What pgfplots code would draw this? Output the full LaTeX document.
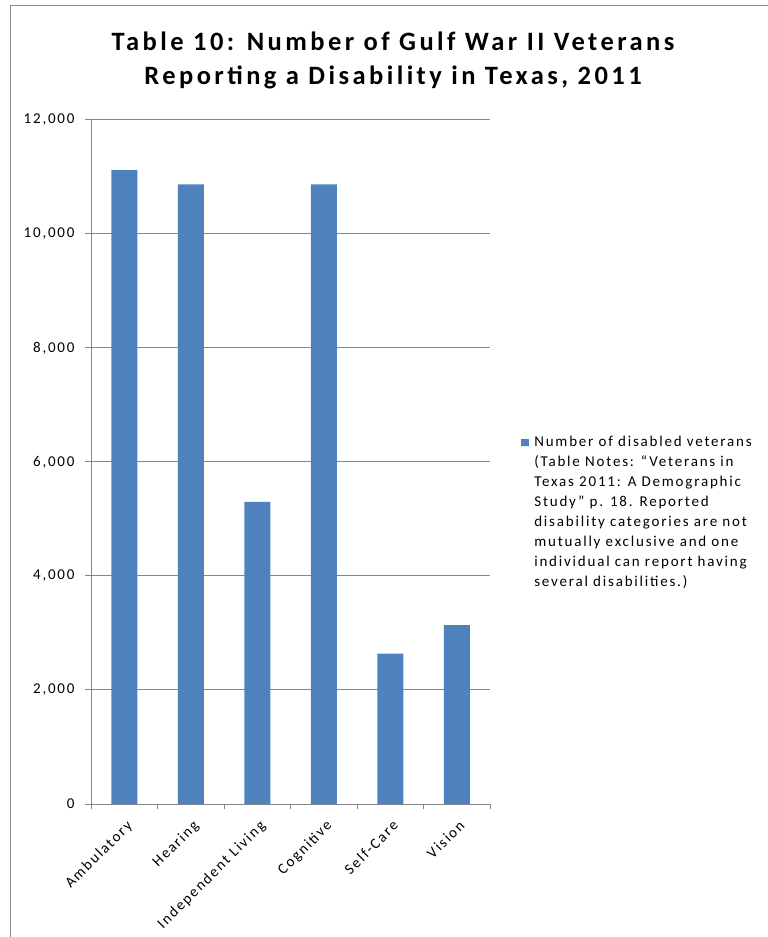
\documentclass[border=0pt]{standalone}
\usepackage{pgfplots}
\pgfplotsset{compat=1.18}
\usepackage{fontspec}
\setmainfont{Carlito}[LetterSpace=12]
\newfontfamily\titlefont{Carlito}[LetterSpace=13]
\definecolor{barblue}{HTML}{4F81BD}
\definecolor{gridgray}{HTML}{868686}
\definecolor{framegray}{HTML}{8C8C8C}
\begin{document}
\begin{tikzpicture}[x=1pt,y=1pt]
\useasboundingbox (0,0) rectangle (768,937);
\draw[framegray, line width=1pt] (10.5,0) -- (10.5,931.5) -- (768,931.5);
\node[anchor=base, inner sep=0pt, font=\titlefont\fontsize{26.5}{30}\selectfont\bfseries] at (393,886) {Table 10: Number of Gulf War II Veterans};
\node[anchor=base, inner sep=0pt, font=\titlefont\fontsize{26.5}{30}\selectfont\bfseries] at (393,852) {Reporting a Disability in Texas, 2011};
\begin{axis}[
  at={(91pt,133pt)}, anchor=south west,
  scale only axis, width=399pt, height=684pt,
  ymin=0, ymax=12000, ytick={0,2000,...,12000},
  xmin=-0.5, xmax=5.5, xtick={0,1,2,3,4,5},
  xticklabels={Ambulatory,Hearing,Independent Living,Cognitive,Self-Care,Vision},
  minor xtick={-0.5,0.5,...,5.5},
  axis x line*=bottom, axis y line*=left,
  axis line style={gridgray, line width=1pt, -},
  ymajorgrids, grid style={gridgray, line width=1pt},
  tick align=outside, major tick length=6pt, minor tick length=5pt,
  major x tick style={draw=none},
  tick style={gridgray, line width=1pt},
  scaled y ticks=false,
  /pgf/number format/.cd, 1000 sep={,}, assume math mode=true, /pgfplots/.cd,
  yticklabel style={font=\fontsize{15}{18}\selectfont, xshift=-7pt},
  xticklabel style={font=\fontsize{15}{18}\selectfont, rotate=45, anchor=north east, xshift=-2pt, yshift=-4pt},
  ybar, bar width=26pt,
  legend style={at={(1.078,0.547)}, anchor=north west, draw=none, fill=none, inner sep=0pt,
    font=\fontsize{15}{20}\selectfont, cells={anchor=base west}},
  legend image code/.code={\fill[barblue] (0pt,0pt) rectangle (8pt,7.5pt); \path (0pt,0pt) -- (11pt,0pt);},
]
\addplot[fill=barblue, draw=none] coordinates {(0,11120) (1,10870) (2,5300) (3,10870) (4,2640) (5,3140)};
\addlegendentry{\begin{tabular}[t]{@{}l@{}}Number of disabled veterans\\(Table Notes: “Veterans in\\Texas 2011: A Demographic\\Study” p. 18. Reported\\disability categories are not\\mutually exclusive and one\\individual can report having\\several disabilities.)\end{tabular}}
\end{axis}
\end{tikzpicture}
\end{document}
